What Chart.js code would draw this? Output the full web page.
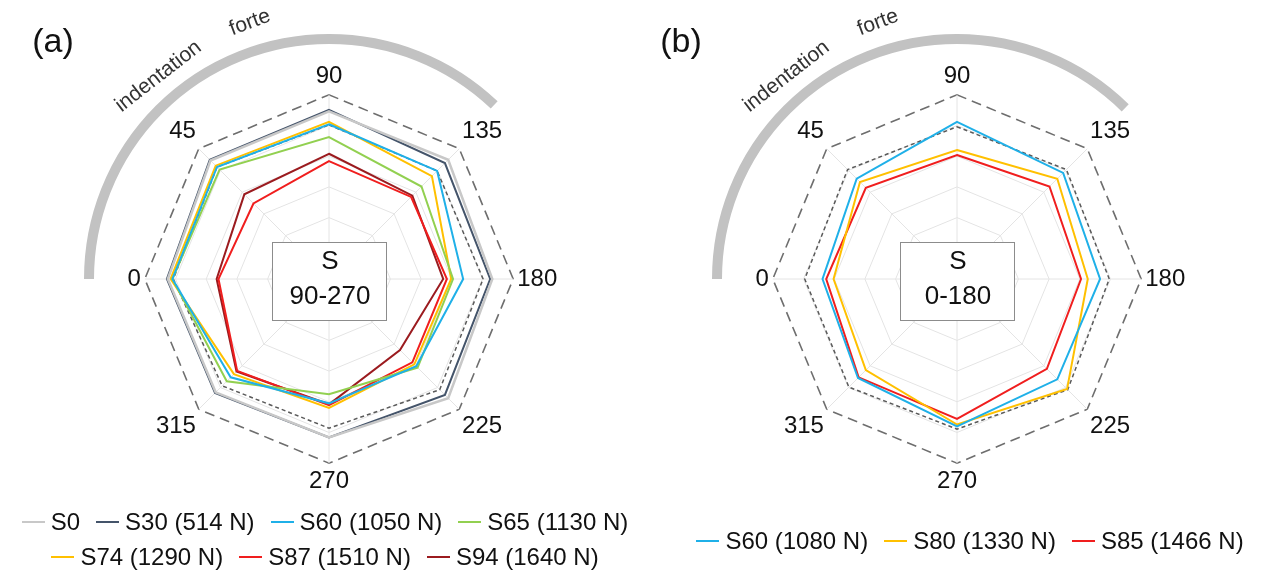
<!DOCTYPE html>
<html lang="en">
<head>
<meta charset="UTF-8">
<title>Indentation radar</title>
<script src="https://cdn.jsdelivr.net/npm/chart.js"></script>
<style>
  body { margin: 0; width: 1262px; height: 576px; background: #fff; position: relative; overflow: hidden;
         font-family: "Liberation Sans", Arial, sans-serif; color: #111; }
  canvas { position: absolute; top: 0; }
  #chartA { left: 0; }
  #chartB { left: 631px; }
  .legend { position: absolute; display: flex; justify-content: center; white-space: nowrap; font-size: 24px; line-height: 28px; }
  .legend .item { display: flex; align-items: center; margin: 0 8px; }
  .legend .swatch { display: inline-block; width: 23px; height: 2px; margin-right: 6px; }
</style>
</head>
<body>
<canvas id="chartA" width="631" height="576"></canvas>
<canvas id="chartB" width="631" height="576"></canvas>
<div class="legend" id="legendA1" style="left:0; width:650px; top:508px;"></div>
<div class="legend" id="legendA2" style="left:0; width:650px; top:543px;"></div>
<div class="legend" id="legendB" style="left:680px; width:580px; top:527px;"></div>
<script>
// direction labels, clockwise from the top
const angles = ['90', '135', '180', '225', '270', '315', '0', '45'];

// panel (a): S 90-270
const s0   = [5.46, 5.49, 5.32, 5.49, 5.16, 5.22, 5.25, 5.46];
const s30  = [5.51, 5.34, 5.25, 5.34, 5.16, 5.25, 5.28, 5.49];
const s60a = [5.04, 4.98, 4.37, 4.02, 4.05, 4.53, 5.10, 5.16];
const s65  = [4.62, 4.26, 4.04, 4.08, 3.75, 4.71, 5.10, 5.04];
const s74  = [5.12, 4.74, 3.98, 3.93, 4.20, 4.38, 5.16, 5.22];
const s87  = [3.84, 3.78, 3.84, 3.84, 4.11, 4.23, 3.60, 3.48];
const s94  = [4.08, 3.84, 3.72, 3.27, 4.08, 4.26, 3.66, 3.90];
const refA = [5.02, 4.98, 5.02, 5.10, 4.86, 4.92, 5.07, 5.16];

// panel (b): S 0-180
const s60b = [5.12, 4.89, 4.66, 4.62, 4.80, 4.56, 4.38, 4.62];
const s80  = [4.20, 4.62, 4.26, 5.07, 4.74, 4.20, 4.02, 4.47];
const s85  = [4.04, 4.26, 4.04, 4.14, 4.56, 4.53, 4.26, 4.20];
const refB = [4.96, 5.04, 4.96, 5.10, 4.89, 4.98, 4.96, 5.04];

const seriesA = [
  { name: 'S0', data: s0, color: '#c8c8c8' },
  { name: 'S30 (514 N)', data: s30, color: '#44546a' },
  { name: 'S60 (1050 N)', data: s60a, color: '#1fb0e8' },
  { name: 'S65 (1130 N)', data: s65, color: '#92d050' },
  { name: 'S74 (1290 N)', data: s74, color: '#ffc000' },
  { name: 'S87 (1510 N)', data: s87, color: '#f01e1e' },
  { name: 'S94 (1640 N)', data: s94, color: '#9b1b1f' }
];
const seriesB = [
  { name: 'S60 (1080 N)', data: s60b, color: '#1fb0e8' },
  { name: 'S80 (1330 N)', data: s80, color: '#ffc000' },
  { name: 'S85 (1466 N)', data: s85, color: '#f01e1e' }
];

const FONT = '"Liberation Sans", Arial, sans-serif';

// grey arc, its words, the panel tag and the centre box
const decoPlugin = {
  id: 'deco',
  afterDraw(chart, args, opts) {
    const r = chart.scales.r;
    const cx = r.xCenter, cy = r.yCenter;
    const ctx = chart.ctx;
    ctx.save();
    ctx.strokeStyle = '#c2c2c2';
    ctx.lineWidth = 10;
    ctx.beginPath();
    ctx.arc(cx, cy, 240, Math.PI, 2 * Math.PI - opts.arcEnd * Math.PI / 180);
    ctx.stroke();

    ctx.fillStyle = '#333';
    ctx.font = '21px ' + FONT;
    ctx.textAlign = 'center';
    ctx.textBaseline = 'alphabetic';
    [['indentation', -167, -198, -37.8], ['forte', -77, -251, -20.6]].forEach(w => {
      ctx.save();
      ctx.translate(cx + w[1], cy + w[2]);
      ctx.rotate(w[3] * Math.PI / 180);
      ctx.fillText(w[0], 0, 0);
      ctx.restore();
    });

    ctx.fillStyle = '#111';
    ctx.font = '34px ' + FONT;
    ctx.textBaseline = 'middle';
    ctx.fillText(opts.tag, cx - 276, cy - 236);

    ctx.fillStyle = '#fff';
    ctx.fillRect(cx - 57, cy - 37, 115, 79);
    ctx.strokeStyle = '#8c8c8c';
    ctx.lineWidth = 1;
    ctx.strokeRect(cx - 56.5, cy - 36.5, 114, 78);
    ctx.fillStyle = '#111';
    ctx.font = '26px ' + FONT;
    ctx.fillText(opts.box[0], cx + 1, cy - 17);
    ctx.fillText(opts.box[1], cx + 1, cy + 18);
    ctx.restore();
  }
};

function makeRadar(id, series, ref, padLeft, deco) {
  const datasets = series.map(s => ({
    label: s.name,
    data: s.data,
    borderColor: s.color,
    borderWidth: s.name === 'S0' ? 2.5 : 2,
    pointRadius: 0,
    fill: false
  }));
  datasets.push({
    label: 'ref',
    data: ref,
    borderColor: '#5a5a5a',
    borderWidth: 1.5,
    borderDash: [4, 3],
    pointRadius: 0,
    fill: false
  });
  return new Chart(document.getElementById(id), {
    type: 'radar',
    data: { labels: angles, datasets },
    options: {
      responsive: false,
      animation: false,
      layout: { padding: { left: padLeft, right: 0, top: 62, bottom: 80 } },
      elements: { line: { tension: 0 } },
      plugins: { legend: { display: false }, tooltip: { enabled: false }, deco },
      scales: {
        r: {
          min: 0,
          max: 6,
          ticks: { display: false, stepSize: 1 },
          grid: {
            color: c => (c.tick && c.tick.value === 6 ? '#6e6e6e' : '#e4e4e4'),
            lineWidth: c => (c.tick && c.tick.value === 6 ? 1.6 : 1)
          },
          border: { dash: c => (c.tick && c.tick.value === 6 ? [10, 6] : []) },
          angleLines: { color: '#e4e4e4', lineWidth: 1 },
          pointLabels: { font: { size: 24, family: FONT }, color: '#111', padding: 4 }
        }
      }
    },
    plugins: [decoPlugin]
  });
}

makeRadar('chartA', seriesA, refA, 27, { tag: '(a)', box: ['S', '90-270'], arcEnd: 46.5 });
makeRadar('chartB', seriesB, refB, 21, { tag: '(b)', box: ['S', '0-180'], arcEnd: 45.5 });

function fillLegend(elId, items) {
  const el = document.getElementById(elId);
  items.forEach(s => {
    const item = document.createElement('span');
    item.className = 'item';
    const sw = document.createElement('span');
    sw.className = 'swatch';
    sw.style.background = s.color;
    item.appendChild(sw);
    item.appendChild(document.createTextNode(s.name));
    el.appendChild(item);
  });
}
fillLegend('legendA1', seriesA.slice(0, 4));
fillLegend('legendA2', seriesA.slice(4));
fillLegend('legendB', seriesB);
</script>
</body>
</html>
